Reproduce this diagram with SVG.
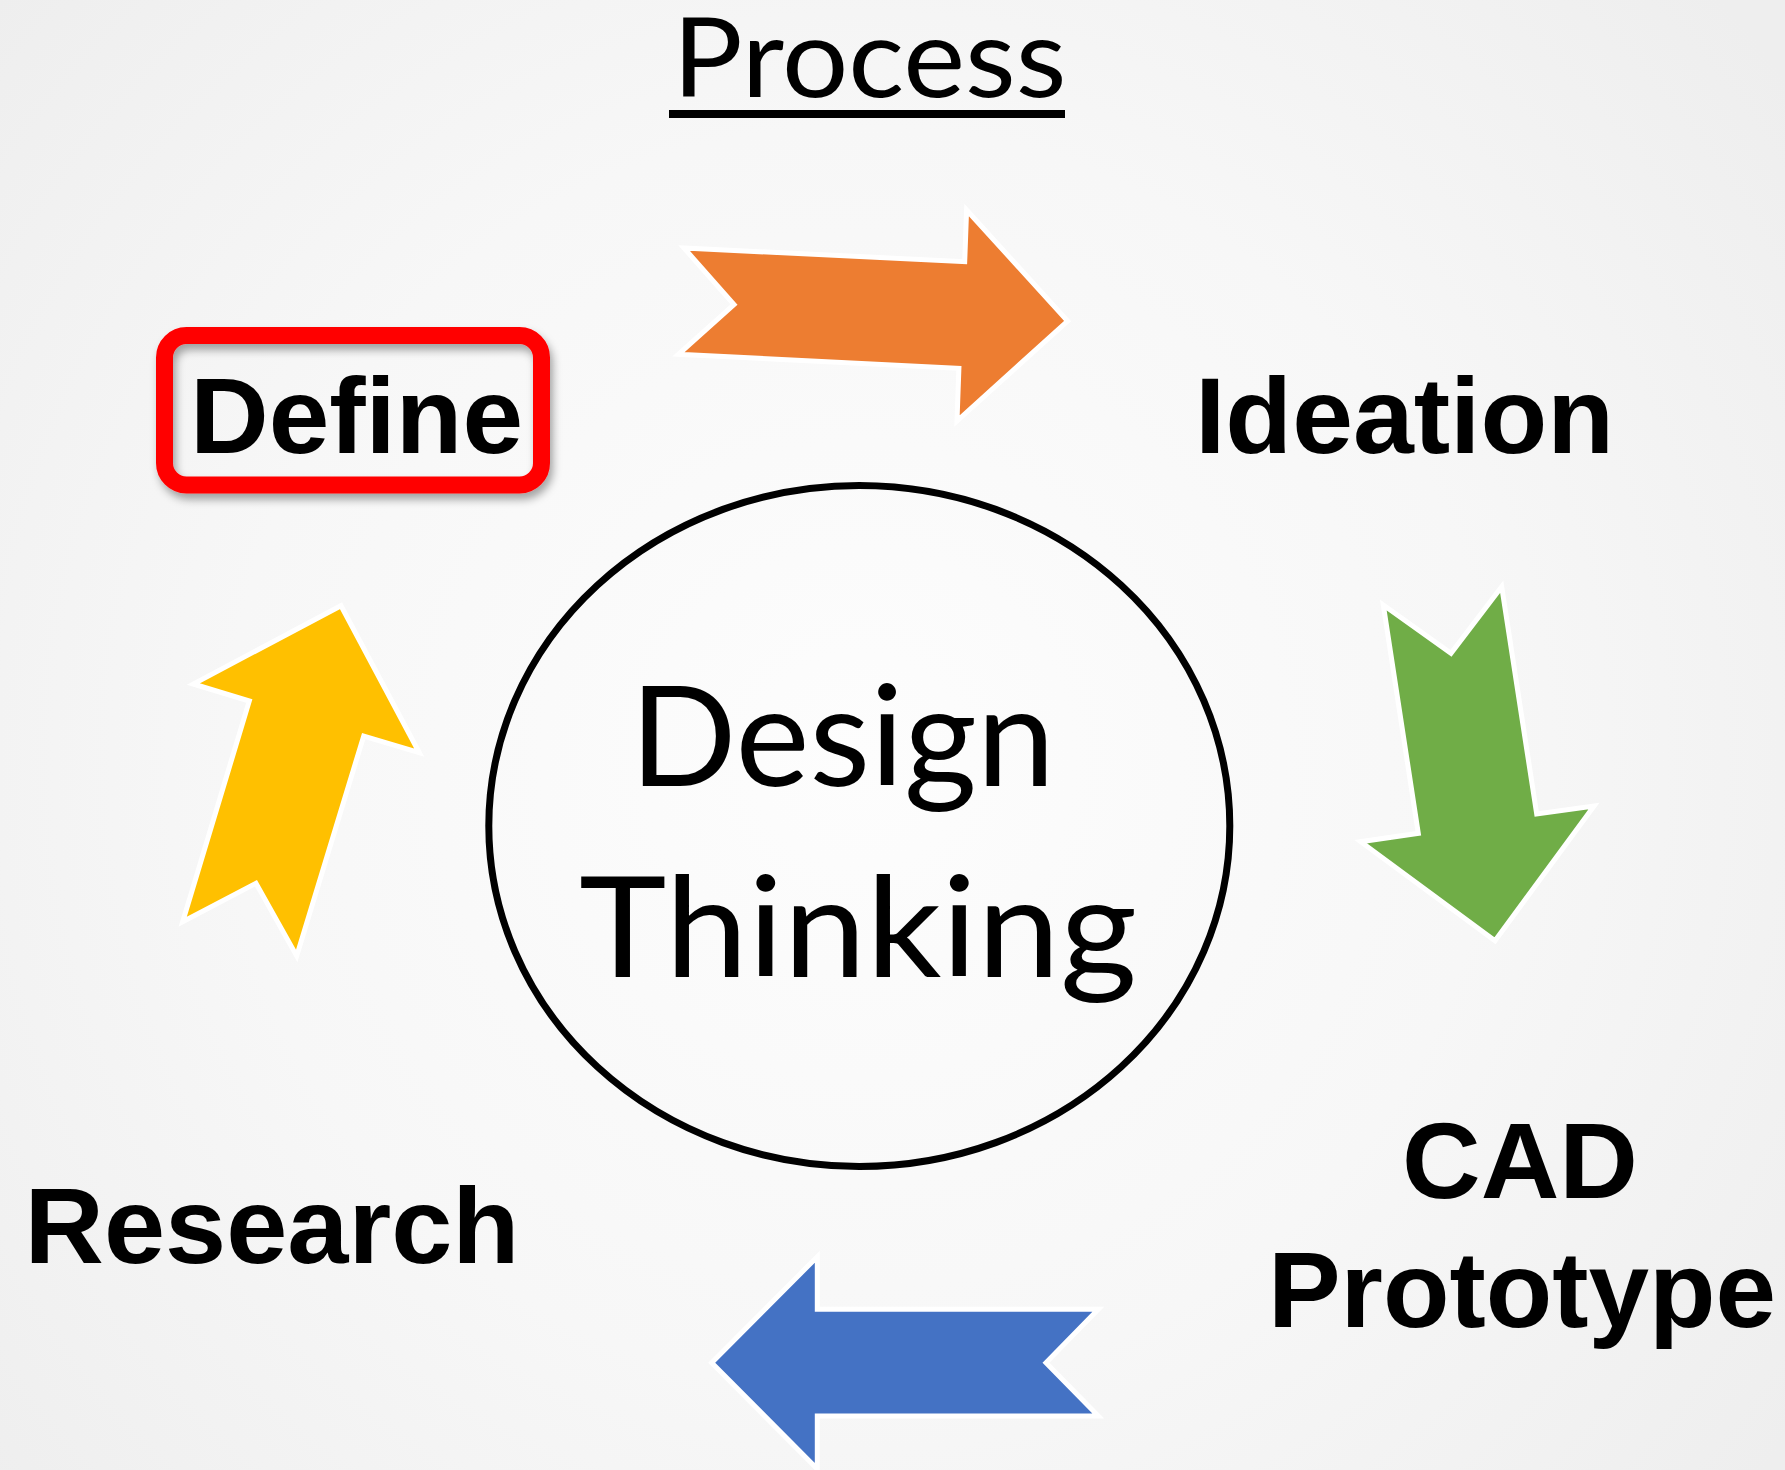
<svg xmlns="http://www.w3.org/2000/svg" width="1785" height="1470" viewBox="0 0 1785 1470">
  <defs>
    <radialGradient id="bg" cx="860" cy="760" r="1150" gradientUnits="userSpaceOnUse">
      <stop offset="0" stop-color="#fdfdfd"/>
      <stop offset="0.55" stop-color="#f7f7f7"/>
      <stop offset="1" stop-color="#eeeeee"/>
    </radialGradient>
    <filter id="shadow" x="-10%" y="-20%" width="125%" height="150%">
      <feDropShadow dx="3" dy="6" stdDeviation="4" flood-color="#000" flood-opacity="0.35"/>
    </filter>
    <style>
      .calibri { font-family: Lato, "Open Sans", "Liberation Sans", sans-serif; font-weight: 400; fill: #000; }
      .label { font-family: "Liberation Sans", Arial, sans-serif; font-weight: 700; font-size: 107px; fill: #000; text-anchor: middle; }
      .arrow { stroke: #ffffff; stroke-width: 5; stroke-linejoin: miter; }
    </style>
  </defs>

  <rect x="0" y="0" width="1785" height="1470" fill="url(#bg)"/>

  <g id="node-title">
    <text class="calibri" x="869.5" y="97" font-size="111" text-anchor="middle" textLength="394" lengthAdjust="spacingAndGlyphs">Process</text>
    <rect x="669" y="110" width="396" height="8" fill="#000"/>
  </g>

  <g id="node-center">
    <ellipse cx="859.3" cy="826" rx="370.5" ry="340.5" fill="none" stroke="#000" stroke-width="7"/>
    <text class="calibri" x="842.5" y="785.7" font-size="140" text-anchor="middle" textLength="425" lengthAdjust="spacingAndGlyphs">Design</text>
    <text class="calibri" x="858" y="977" font-size="140" text-anchor="middle" textLength="558" lengthAdjust="spacingAndGlyphs">Thinking</text>
  </g>

  <g id="node-define">
    <rect x="164.5" y="335.5" width="377" height="149.5" rx="22" ry="22" fill="none" stroke="#ff0000" stroke-width="17" filter="url(#shadow)"/>
    <text class="label" x="356.5" y="453" textLength="333" lengthAdjust="spacingAndGlyphs">Define</text>
  </g>

  <g id="node-ideation">
    <text class="label" x="1404.5" y="453" textLength="419" lengthAdjust="spacingAndGlyphs">Ideation</text>
  </g>

  <g id="node-cad-prototype">
    <text class="label" x="1520" y="1198" textLength="236" lengthAdjust="spacingAndGlyphs">CAD</text>
    <text class="label" x="1522" y="1327" textLength="508" lengthAdjust="spacingAndGlyphs">Prototype</text>
  </g>

  <g id="node-research">
    <text class="label" x="272" y="1263" textLength="495" lengthAdjust="spacingAndGlyphs">Research</text>
  </g>

  <g id="connectors">
    <polygon id="arrow-define-ideation" class="arrow" fill="#ed7d31"
      points="684,248 964.7,261.7 966.6,210 1067.6,321 957,421 958.9,368.3 678.4,354.3 734,304.5"/>
    <polygon id="arrow-ideation-cad" class="arrow" fill="#70ad47"
      points="1383.3,605 1451,653.3 1501.7,586.7 1536.7,814 1594,806 1495,940.7 1360.7,841.7 1418.3,833.3"/>
    <polygon id="arrow-cad-research" class="arrow" fill="#4472c4"
      points="711.7,1362.7 817.3,1256.7 817.3,1309.3 1098.3,1309.3 1046,1362.7 1098.3,1416 817.3,1416 817.3,1469"/>
    <polygon id="arrow-research-define" class="arrow" fill="#ffc000"
      points="341,605.7 419.3,752.7 363.7,736 296.7,956 256,883.3 182.7,921.7 249.3,701 193.3,684"/>
  </g>
</svg>
